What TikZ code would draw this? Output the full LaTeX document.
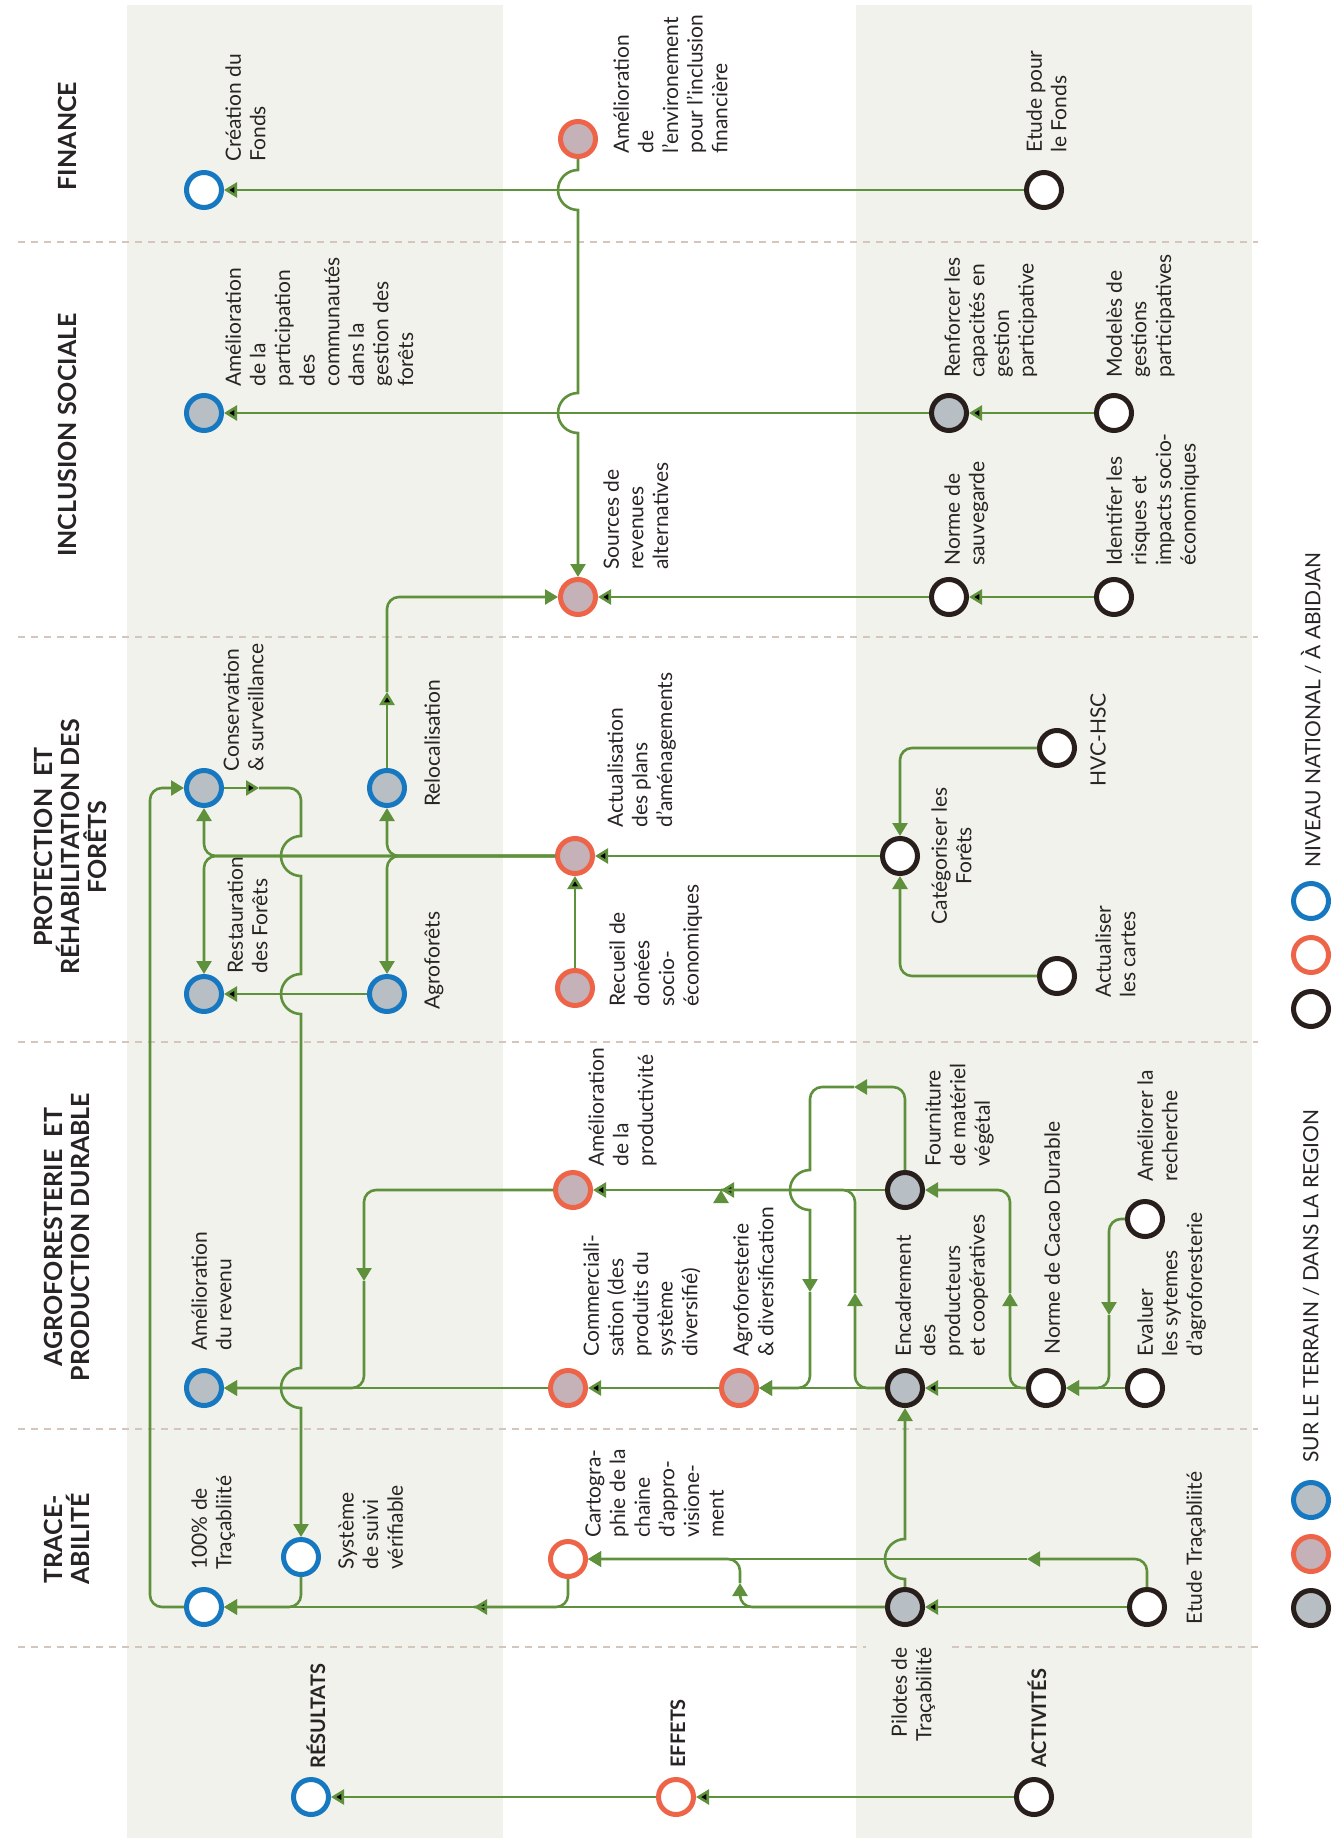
\documentclass[tikz,border=0pt]{standalone}
\usepackage{fontspec}
\setmainfont{Lato}
\usepackage{tikz}
\usetikzlibrary{arrows.meta,positioning}

\definecolor{vert}{RGB}{95,145,60}
\definecolor{bleu}{RGB}{22,120,192}
\definecolor{rouge}{RGB}{238,100,72}
\definecolor{noir}{RGB}{40,30,28}
\definecolor{gris}{RGB}{184,191,196}
\definecolor{rose}{RGB}{196,178,184}
\definecolor{bande}{RGB}{242,242,236}
\definecolor{tiret}{RGB}{212,198,188}
\definecolor{encre}{RGB}{40,36,36}

\begin{document}
\begin{tikzpicture}[x=0.5pt,y=-0.5pt,>={Triangle[length=6.5pt,width=7.5pt]}]
	\tikzstyle{dot}=[circle,minimum size=17.5pt,inner sep=0pt,line width=2.5pt,fill=white]
	\tikzstyle{bluedot}=[dot,draw=bleu]
	\tikzstyle{reddot}=[dot,draw=rouge]
	\tikzstyle{blackdot}=[dot,draw=noir]
	\tikzstyle{grayfill}=[fill=gris]
	\tikzstyle{pinkfill}=[fill=rose]
	\tikzstyle{lien}=[draw=vert,line width=1.3pt]
	\tikzstyle{lbl}=[rotate=90,anchor=north west,align=left,inner sep=0pt,text=encre,font=\fontsize{10.5}{12.3}\selectfont]
	\tikzstyle{ttl}=[rotate=90,align=center,inner sep=0pt,text=encre,font=\fontsize{12.5}{13.5}\selectfont\bfseries]
	\tikzstyle{lvl}=[rotate=90,anchor=north west,inner sep=0pt,text=encre,font=\fontsize{10}{12}\selectfont\bfseries]
	\tikzstyle{sep}=[draw=tiret,line width=1.3pt,dash pattern=on 3.5pt off 3pt]

	\useasboundingbox (0,0) rectangle (1333,1841);
	\fill[bande] (127,5) rectangle (503,1838);
	\fill[bande] (856,5) rectangle (1252,1838);
	\draw[sep] (18,242) -- (1258,242);
	\draw[sep] (18,637) -- (1258,637);
	\draw[sep] (18,1042) -- (1258,1042);
	\draw[sep] (18,1429) -- (1258,1429);
	\draw[sep] (18,1647) -- (866,1647);
	\draw[sep] (952,1647) -- (1258,1647);

	\node[ttl] (tFin) at (67,136) {FINANCE};
	\node[ttl] (tInc) at (67,435) {INCLUSION SOCIALE};
	\node[ttl] (tPro) at (70,847) {PROTECTION~ ET\\RÉHABILITATION DES\\FORÊTS};
	\node[ttl] (tAgr) at (67,1237) {AGROFORESTERIE~ ET\\PRODUCTION DURABLE};
	\node[ttl] (tTra) at (67,1539) {TRACE-\\ABILITÉ};

	\node[bluedot] (fondsCre) at (204,190) {};
	\node[reddot,pinkfill] (envFin) at (578,139) {};
	\node[blackdot] (etudeFonds) at (1044,190) {};
	\node[bluedot,grayfill] (participation) at (204,413) {};
	\node[blackdot,grayfill] (renforcer) at (949,413) {};
	\node[blackdot] (modeles) at (1114,413) {};
	\node[reddot,pinkfill] (sources) at (578,597) {};
	\node[blackdot] (normeSauv) at (949,597) {};
	\node[blackdot] (identifier) at (1114,597) {};
	\node[bluedot,grayfill] (conservation) at (204,788) {};
	\node[bluedot,grayfill] (relocalisation) at (387,788) {};
	\node[bluedot,grayfill] (restauration) at (204,994) {};
	\node[bluedot,grayfill] (agroforets) at (387,994) {};
	\node[reddot,pinkfill] (actualisation) at (575,856) {};
	\node[reddot,pinkfill] (recueil) at (575,988) {};
	\node[blackdot] (categoriser) at (900,856) {};
	\node[blackdot] (hvc) at (1057,748) {};
	\node[blackdot] (actCartes) at (1057,976) {};
	\node[bluedot,grayfill] (revenu) at (204,1388) {};
	\node[reddot,pinkfill] (productivite) at (573,1190) {};
	\node[reddot,pinkfill] (commercial) at (568,1388) {};
	\node[reddot,pinkfill] (agrodiv) at (739,1388) {};
	\node[blackdot,grayfill] (encadrement) at (905,1388) {};
	\node[blackdot,grayfill] (fourniture) at (905,1190) {};
	\node[blackdot] (normeCacao) at (1046,1388) {};
	\node[blackdot] (evaluer) at (1145,1388) {};
	\node[blackdot] (recherche) at (1145,1219) {};
	\node[bluedot] (trac100) at (204,1607) {};
	\node[bluedot] (suivi) at (301,1557) {};
	\node[reddot] (cartographie) at (568,1559) {};
	\node[blackdot,grayfill] (pilotes) at (905,1607) {};
	\node[blackdot] (etudeTrac) at (1147,1607) {};
	\node[bluedot] (resultats) at (311,1797) {};
	\node[reddot] (effets) at (676,1797) {};
	\node[blackdot] (activites) at (1034,1797) {};

	\node[bluedot] (legNat1) at (1311,901) {};
	\node[reddot] (legNat2) [below=7pt of legNat1] {};
	\node[blackdot] (legNat3) [below=7pt of legNat2] {};
	\node[bluedot,grayfill] (legReg1) at (1311,1500) {};
	\node[reddot,pinkfill] (legReg2) [below=7pt of legReg1] {};
	\node[blackdot,grayfill] (legReg3) [below=7pt of legReg2] {};
	\node[lbl,anchor=west] (legNatTxt) at (1311,868) {NIVEAU NATIONAL / À ABIDJAN};
	\node[lbl,anchor=west] (legRegTxt) at (1311,1463) {SUR LE TERRAIN / DANS LA REGION};

	\node[lbl] (fondsCreTxt) at ([shift={(21,-28)}]fondsCre) {Création du\\Fonds};
	\node[lbl] (envFinTxt) at ([shift={(35,15)}]envFin) {Amélioration\\de\\l’environement\\pour l’inclusion\\financière};
	\node[lbl] (etudeFondsTxt) at ([shift={(-18,-37)}]etudeFonds) {Etude pour\\le Fonds};
	\node[lbl] (participationTxt) at ([shift={(21,-26)}]participation) {Amélioration\\de la\\participation\\des\\communautés\\dans la\\gestion des\\forêts};
	\node[lbl] (renforcerTxt) at ([shift={(-5,-35)}]renforcer) {Renforcer les\\capacités en\\gestion\\participative};
	\node[lbl] (modelesTxt) at ([shift={(-8,-35)}]modeles) {Modelès de\\gestions\\participatives};
	\node[lbl] (sourcesTxt) at ([shift={(25,-27)}]sources) {Sources de\\revenues\\alternatives};
	\node[lbl] (normeSauvTxt) at ([shift={(-5,-31)}]normeSauv) {Norme de\\sauvegarde};
	\node[lbl] (identifierTxt) at ([shift={(-8,-31)}]identifier) {Identifer les\\risques et\\impacts socio-\\économiques};
	\node[lbl] (conservationTxt) at ([shift={(19,-16)}]conservation) {Conservation\\\& surveillance};
	\node[lbl] (relocalisationTxt) at ([shift={(37,19)}]relocalisation) {Relocalisation};
	\node[lbl] (restaurationTxt) at ([shift={(23,-20)}]restauration) {Restauration\\des Forêts};
	\node[lbl] (agroforetsTxt) at ([shift={(37,16)}]agroforets) {Agroforêts};
	\node[lbl] (actualisationTxt) at ([shift={(32,-28)}]actualisation) {Actualisation\\des plans\\d’aménagements};
	\node[lbl] (recueilTxt) at ([shift={(34,19)}]recueil) {Recueil de\\donées\\socio-\\économiques};
	\node[lbl,anchor=north,align=center] (categoriserTxt) at ([shift={(31,0)}]categoriser) {Catégoriser les\\Forêts};
	\node[lbl,anchor=north] (hvcTxt) at ([shift={(33,-8)}]hvc) {HVC-HSC};
	\node[lbl] (actCartesTxt) at ([shift={(38,22)}]actCartes) {Actualiser\\les cartes};
	\node[lbl] (revenuTxt) at ([shift={(-13,-37)}]revenu) {Amélioration\\du revenu};
	\node[lbl] (productiviteTxt) at ([shift={(15,-23)}]productivite) {Amélioration\\de la\\productivité};
	\node[lbl] (commercialTxt) at ([shift={(15,-31)}]commercial) {Commerciali-\\sation (des\\produits du\\système\\diversifié)};
	\node[lbl] (agrodivTxt) at ([shift={(-6,-31)}]agrodiv) {Agroforesterie\\\& diversification};
	\node[lbl] (encadrementTxt) at ([shift={(-10,-31)}]encadrement) {Encadrement\\des\\producteurs\\et coopératives};
	\node[lbl] (fournitureTxt) at ([shift={(20,-23)}]fourniture) {Fourniture\\de matériel\\végétal};
	\node[lbl] (normeCacaoTxt) at ([shift={(-2,-33)}]normeCacao) {Norme de Cacao Durable};
	\node[lbl] (evaluerTxt) at ([shift={(-8,-31)}]evaluer) {Evaluer\\les sytemes\\d’agroforesterie};
	\node[lbl] (rechercheTxt) at ([shift={(-8,-37)}]recherche) {Améliorer la\\recherche};
	\node[lbl] (trac100Txt) at ([shift={(-13,-37)}]trac100) {100\% de\\Traçabliité};
	\node[lbl] (suiviTxt) at ([shift={(37,13)}]suivi) {Système\\de suivi\\vérifiable};
	\node[lbl] (cartographieTxt) at ([shift={(17,-21)}]cartographie) {Cartogra-\\phie de la\\chaine\\d’appro-\\visione-\\ment};
	\node[lbl,anchor=north east,align=right] (pilotesTxt) at ([shift={(-14,40)}]pilotes) {Pilotes de\\Traçabilité};
	\node[lbl] (etudeTracTxt) at ([shift={(39,18)}]etudeTrac) {Etude Traçabliité};
	\node[lvl] (resultatsTxt) at ([shift={(-5,-28)}]resultats) {RÉSULTATS};
	\node[lvl] (effetsTxt) at ([shift={(-6,-29)}]effets) {EFFETS};
	\node[lvl] (activitesTxt) at ([shift={(-7,-29)}]activites) {ACTIVITÉS};

	\coordinate (relocUp) at (387,692);
	\coordinate (consRight) at (259,788);
	\coordinate (railL) at (150,1200);
	\coordinate (tracMid) at (474,1607);
	\coordinate (cartoUp) at (740,1583);
	\coordinate (etudeMid) at (1027,1559);
	\coordinate (fourMid) at (721,1190);
	\coordinate (loopL) at (854,1087);
	\coordinate (loopDn) at (810,1292);
	\coordinate (encUp) at (855,1293);
	\coordinate (normeUp) at (1010,1293);
	\coordinate (rechDn) at (1109,1315);
	\coordinate (prodDn) at (364,1281);

	\path[lien,->]
	(etudeFonds) edge (fondsCre)
	(modeles) edge (renforcer)
	(renforcer) edge (participation)
	(identifier) edge (normeSauv)
	(normeSauv) edge (sources)
	(recueil) edge (actualisation)
	(categoriser) edge (actualisation)
	(agroforets) edge (restauration)
	(relocalisation) edge (relocUp)
	(conservation) edge (consRight)
	(pilotes) edge (tracMid)
	(tracMid) edge (trac100)
	(etudeMid) edge (cartographie)
	(etudeTrac) edge (pilotes)
	(fourniture) edge (fourMid)
	(fourMid) edge (productivite)
	(encadrement) edge (agrodiv)
	(agrodiv) edge (commercial)
	(commercial) edge (revenu)
	(normeCacao) edge (encadrement)
	(evaluer) edge (normeCacao)
	(activites) edge (effets)
	(effets) edge (resultats);

	\draw[lien,->] (envFin) -- (578,170) arc[start angle=270,end angle=90,radius=20] -- (578,393) arc[start angle=270,end angle=90,radius=20] -- (sources);
	\draw[lien,->,rounded corners=6pt] (relocUp) |- (sources);
	\draw[lien,->,rounded corners=6pt] (actualisation) -| (relocalisation);
	\draw[lien,->,rounded corners=6pt] (actualisation) -| (agroforets);
	\draw[lien,->,rounded corners=6pt] (actualisation) -| (conservation);
	\draw[lien,->,rounded corners=6pt] (actualisation) -| (restauration);
	\draw[lien,->,rounded corners=6pt] (hvc) -| (categoriser);
	\draw[lien,->,rounded corners=6pt] (actCartes) -| (categoriser);
	\draw[lien,rounded corners=6pt] (consRight) -| (301,820);
	\draw[lien,->] (301,820) -- (301,836) arc[start angle=270,end angle=90,radius=20] -- (301,974) arc[start angle=270,end angle=90,radius=20] -- (301,1368) arc[start angle=270,end angle=90,radius=20] -- (suivi);
	\draw[lien,->,rounded corners=6pt] (trac100) -| (railL) |- (conservation);

	\draw[lien,->,rounded corners=6pt] (suivi) |- (trac100);
	\draw[lien,rounded corners=6pt] (cartographie) |- (tracMid);
	\draw[lien,->,rounded corners=6pt] (pilotes) -| (cartoUp);
	\draw[lien,->,rounded corners=6pt] (cartoUp) |- (cartographie);
	\draw[lien,->,rounded corners=6pt] (etudeTrac) |- (etudeMid);
	\draw[lien,->] (pilotes) -- (905,1579) arc[start angle=90,end angle=270,radius=20] -- (encadrement);

	\draw[lien,->,rounded corners=6pt] (fourniture) |- (loopL);
	\draw[lien,rounded corners=6pt] (loopL) -| (810,1150);
	\draw[lien,->] (810,1150) -- (810,1170) arc[start angle=270,end angle=90,radius=20] -- (loopDn);
	\draw[lien,->,rounded corners=6pt] (loopDn) |- (agrodiv);
	\draw[lien,->,rounded corners=6pt] (encadrement) -| (encUp);
	\draw[lien,rounded corners=6pt] (encUp) |- (fourMid);
	\draw[lien,->,rounded corners=6pt] (normeCacao) -| (normeUp);
	\draw[lien,->,rounded corners=6pt] (normeUp) |- (fourniture);
	\draw[lien,->,rounded corners=6pt] (recherche) -| (rechDn);
	\draw[lien,->,rounded corners=6pt] (rechDn) |- (normeCacao);
	\draw[lien,->,rounded corners=6pt] (productivite) -| (prodDn);
	\draw[lien,->,rounded corners=6pt] (prodDn) |- (revenu);
\end{tikzpicture}
\end{document}
